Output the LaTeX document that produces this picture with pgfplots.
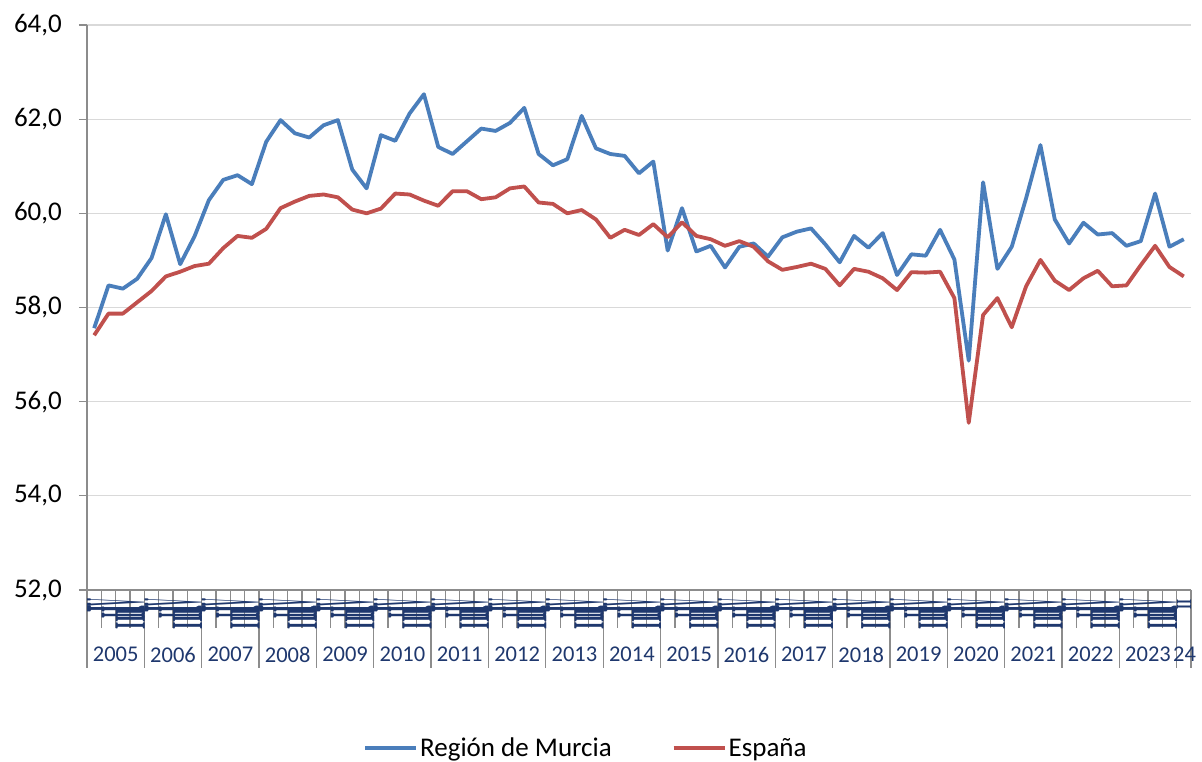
\documentclass[border=0pt]{standalone}
\usepackage{pgfplots}
\usepackage{pgfplotstable}
\usepackage{graphicx}
\pgfplotsset{compat=1.18}
\usepackage{fontspec}
\setmainfont{Carlito}
\newfontfamily\qfont{Liberation Serif}
\definecolor{murcia}{RGB}{74,126,187}
\definecolor{espana}{RGB}{192,80,77}
\definecolor{navy}{RGB}{31,56,110}
\definecolor{gridc}{RGB}{217,217,217}
\definecolor{axc}{RGB}{140,140,140}

\pgfplotstableread{
i murcia espana
0 57.56 57.41
1 58.47 57.87
2 58.40 57.87
3 58.61 58.11
4 59.05 58.35
5 59.98 58.66
6 58.92 58.76
7 59.51 58.88
8 60.28 58.93
9 60.71 59.26
10 60.81 59.52
11 60.62 59.48
12 61.52 59.67
13 61.98 60.11
14 61.70 60.25
15 61.61 60.37
16 61.87 60.40
17 61.98 60.34
18 60.93 60.08
19 60.53 60.00
20 61.66 60.10
21 61.54 60.42
22 62.12 60.40
23 62.53 60.27
24 61.41 60.16
25 61.26 60.47
26 61.53 60.47
27 61.80 60.30
28 61.75 60.34
29 61.92 60.53
30 62.24 60.57
31 61.26 60.23
32 61.02 60.20
33 61.15 60.00
34 62.07 60.07
35 61.38 59.87
36 61.26 59.48
37 61.22 59.65
38 60.85 59.54
39 61.10 59.77
40 59.21 59.49
41 60.11 59.81
42 59.19 59.52
43 59.31 59.45
44 58.85 59.31
45 59.29 59.41
46 59.36 59.29
47 59.08 58.98
48 59.49 58.80
49 59.61 58.86
50 59.68 58.93
51 59.34 58.82
52 58.96 58.47
53 59.52 58.82
54 59.27 58.76
55 59.58 58.62
56 58.69 58.37
57 59.13 58.75
58 59.10 58.74
59 59.65 58.76
60 59.02 58.20
61 56.87 55.55
62 60.66 57.84
63 58.82 58.20
64 59.29 57.58
65 60.32 58.45
66 61.45 59.01
67 59.87 58.57
68 59.36 58.37
69 59.80 58.62
70 59.55 58.78
71 59.58 58.45
72 59.31 58.47
73 59.41 58.90
74 60.42 59.31
75 59.29 58.86
76 59.45 58.66
}\datatable

\begin{document}
\begin{tikzpicture}[x=1pt,y=1pt]
\path[use as bounding box] (0,0) rectangle (1202,762);
\begin{axis}[
  at={(87pt,172pt)}, anchor=south west,
  scale only axis, width=1104pt, height=565pt,
  xmin=-0.5, xmax=76.5, ymin=52, ymax=64,
  axis x line=bottom, axis y line=left,
  axis line style={-, axc, line width=1.3pt},
  xtick=\empty,
  ytick={52,54,...,64},
  ymajorgrids, grid style={gridc, line width=1.2pt},
  tick align=outside, major tick length=8pt,
  tick style={axc, line width=1.3pt},
  /pgf/number format/assume math mode=true,
  yticklabel={\pgfmathprintnumber[fixed,fixed zerofill,precision=1,use comma]{\tick}},
  yticklabel style={font=\fontsize{27}{31}\selectfont, anchor=east, inner sep=0pt, xshift=-17pt},
  legend style={at={(0.452,-0.2797)}, anchor=center, draw=none, fill=none,
    legend columns=2, font=\fontsize{27}{32}\selectfont,
    /tikz/every even column/.append style={column sep=58pt}},
  legend image code/.code={\draw[#1] (0pt,0pt) -- (51pt,0pt);},
  clip=false,
]
\addplot[murcia, line width=3.8pt, line join=round] table[x=i,y=murcia] {\datatable};
\addlegendentry{Región de Murcia}
\addplot[espana, line width=3.8pt, line join=round] table[x=i,y=espana] {\datatable};
\addlegendentry{España}
\end{axis}
% category axis ticks
\foreach \k in {0,...,77} {
  \pgfmathsetmacro\xb{87+14.3377*\k}
  \draw[axc, line width=1.3pt] (\xb,172) -- (\xb,134);
}
\foreach \k in {0,...,19} {
  \pgfmathsetmacro\xb{87+57.3507*\k}
  \draw[axc, line width=1.3pt] (\xb,172) -- (\xb,94);
}
\draw[axc, line width=1.3pt] (1191,172) -- (1191,94);
% quarter labels and years
\foreach \j [evaluate=\j as \yr using int(2005+\j)] in {0,...,18} {
  \pgfmathsetmacro\xo{87+57.3507*\j}
  \pgfmathsetmacro\xq{\xo+14.3377}
  \pgfmathsetmacro\xr{\xo+28.6754}
  \node[anchor=west, inner sep=0pt, text=navy] at (\xo,157) {\resizebox{57pt}{12pt}{\qfont\bfseries\rotatebox{90}{IV}}};
  \node[anchor=west, inner sep=0pt, text=navy] at (\xo,153) {\resizebox{57pt}{7pt}{\qfont\bfseries\rotatebox{90}{I}}};
  \node[anchor=west, inner sep=0pt, text=navy] at (\xq,149) {\resizebox{43pt}{12pt}{\qfont\bfseries\rotatebox{90}{II}}};
  \node[anchor=west, inner sep=0pt, text=navy] at (\xr,143) {\resizebox{29pt}{22pt}{\qfont\bfseries\rotatebox{90}{III}}};
  \node[text=navy, font=\fontsize{22.5}{27}\selectfont, inner sep=0pt] at (\xr,107.5) {\yr};
}
\node[anchor=west, inner sep=0pt, text=navy] at (1177,157) {\resizebox{14pt}{10pt}{\qfont\bfseries\rotatebox{90}{II}}};
\node[text=navy, font=\fontsize{22.5}{27}\selectfont, inner sep=0pt] at (1184.5,107.5) {24};
\end{tikzpicture}
\end{document}
